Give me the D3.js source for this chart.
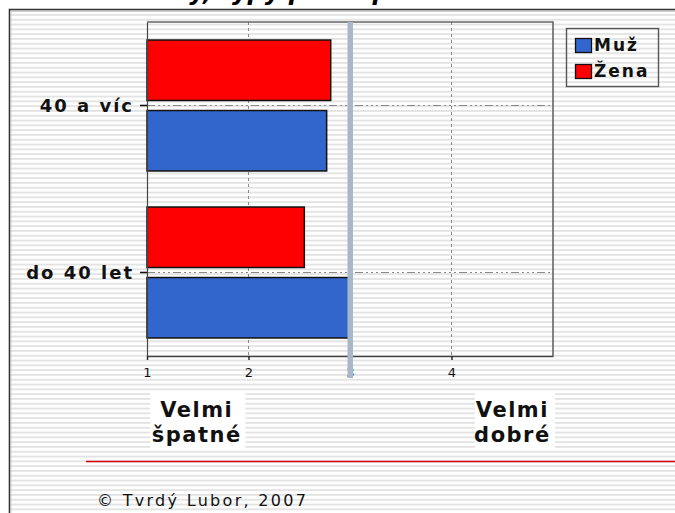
<!DOCTYPE html>
<html><head><meta charset="utf-8">
<script src="https://cdn.jsdelivr.net/npm/d3@7"></script>
<style>html,body{margin:0;padding:0;background:#fff;}svg{display:block;}</style>
</head><body>
<script>
// ---- data ----
const categories = ["40 a víc", "do 40 let"];
const seriesNames = ["Muž", "Žena"];
const muzValues = [2.77, 2.99];
const zenaValues = [2.81, 2.55];
const xTickValues = [1, 2, 3, 4];
const xDomain = [1, 5];
const midValue = 3;
const leftNote = ["Velmi", "špatné"];
const rightNote = ["Velmi", "dobré"];
const titleText = "Názory, typy podle pohlaví a věku";
const footerText = "© Tvrdý Lubor, 2007";
const colors = {"Muž": "#3366cc", "Žena": "#ff0000"};

const W = 675, H = 513;
const font = "'DejaVu Sans', Verdana, sans-serif";
const svg = d3.select("body").append("svg").attr("width", W).attr("height", H);

// stripes background
const defs = svg.append("defs");
const pat = defs.append("pattern").attr("id", "stripes").attr("patternUnits", "userSpaceOnUse")
  .attr("x", 0).attr("y", 14).attr("width", W).attr("height", 4.8);
pat.append("rect").attr("width", W).attr("height", 4.8).attr("fill", "#ffffff");
pat.append("rect").attr("y", 0).attr("width", W).attr("height", 1.8).attr("fill", "#e2e2e2");

svg.append("rect").attr("x", 9).attr("y", 9).attr("width", W).attr("height", H).attr("fill", "url(#stripes)");
// outer frame
svg.append("path").attr("d", `M9.5,${H} V9.5 H${W}`).attr("fill", "none").attr("stroke", "#333").attr("stroke-width", 1.6);
svg.append("path").attr("d", `M11,${H} V11.5 H${W}`).attr("fill", "none").attr("stroke", "#cfcfcf").attr("stroke-width", 1);

// title (cropped at top, as in the reference)
svg.append("text").attr("x", 340).attr("y", 0).attr("text-anchor", "middle")
  .attr("font-family", font).attr("font-size", 24).attr("font-weight", "bold").attr("font-style", "italic")
  .text(titleText);

// scales
const x = d3.scaleLinear().domain(xDomain).range([147, 553]);
const y = d3.scaleBand().domain(categories).range([22, 356]);
const barH = y.bandwidth() * 0.362, gap = y.bandwidth() * 0.06;

const g = svg.append("g");

// vertical dashed gridlines
g.selectAll(".vg").data(xTickValues.filter(v => v !== midValue && v !== xDomain[0])).enter().append("line")
  .attr("x1", d => x(d)).attr("x2", d => x(d)).attr("y1", y.range()[0]).attr("y2", y.range()[1])
  .attr("stroke", "#8a8a8a").attr("stroke-width", 1).attr("stroke-dasharray", "3,3");
// horizontal dash-dot gridlines
g.selectAll(".hg").data(categories).enter().append("line")
  .attr("x1", x(xDomain[0])).attr("x2", x(xDomain[1])).attr("y1", d => y(d) + y.bandwidth()/2).attr("y2", d => y(d) + y.bandwidth()/2)
  .attr("stroke", "#8a8a8a").attr("stroke-width", 1).attr("stroke-dasharray", "8,3,2,3,2,3,2,3");

// plot frame top/right
g.append("path").attr("d", `M${x(xDomain[0])},${y.range()[0]} H${x(xDomain[1])} V${y.range()[1]}`)
  .attr("fill", "none").attr("stroke", "#666").attr("stroke-width", 1.6);

// bars
const rows = categories.map((c, i) => ({c, muz: muzValues[i], zena: zenaValues[i]}));
rows.forEach(r => {
  const cy = y(r.c) + y.bandwidth()/2;
  g.append("rect").attr("x", x(xDomain[0])).attr("y", cy - gap/2 - barH)
    .attr("width", x(r.zena) - x(xDomain[0])).attr("height", barH)
    .attr("fill", colors["Žena"]).attr("stroke", "#111").attr("stroke-width", 1.5);
  g.append("rect").attr("x", x(xDomain[0])).attr("y", cy + gap/2)
    .attr("width", x(r.muz) - x(xDomain[0])).attr("height", barH)
    .attr("fill", colors["Muž"]).attr("stroke", "#111").attr("stroke-width", 1.5);
});

// x axis
const xa = svg.append("g").attr("transform", `translate(0,${y.range()[1]})`)
  .call(d3.axisBottom(x).tickValues(xTickValues).tickFormat(d3.format("d")).tickSize(4).tickSizeOuter(0));
xa.select(".domain").attr("stroke", "#444").attr("stroke-width", 1.4);
xa.selectAll(".tick line").attr("stroke", "#222").attr("stroke-width", 1.4);
xa.selectAll(".tick text").attr("font-family", font).attr("font-size", 13).attr("fill", "#111").attr("dy", "1.1em");

// y axis
const ya = svg.append("g").attr("transform", `translate(${x(xDomain[0])},0)`)
  .call(d3.axisLeft(y).tickSize(7).tickSizeOuter(0).tickPadding(6));
ya.select(".domain").attr("stroke", "#444").attr("stroke-width", 1.2);
ya.selectAll(".tick line").attr("stroke", "#111").attr("stroke-width", 1.6);
ya.selectAll(".tick text").attr("font-family", font).attr("font-size", 18).attr("font-weight", "bold")
  .attr("letter-spacing", 2).attr("fill", "#111").attr("dy", "0.35em");

// mid grey line at 3
svg.append("rect").attr("x", x(midValue) - 2.5).attr("y", y.range()[0]).attr("width", 5.5).attr("height", 378 - y.range()[0])
  .attr("fill", "#a9b8c8");

// notes under axis
function note(lines, cx, x0, x1) {
  svg.append("rect").attr("x", x0).attr("y", 392).attr("width", x1 - x0).attr("height", 56).attr("fill", "#fff");
  const t = svg.append("text").attr("font-family", font).attr("font-size", 21).attr("font-weight", "bold")
    .attr("letter-spacing", 1.5).attr("fill", "#111").attr("text-anchor", "middle");
  lines.forEach((l, i) => t.append("tspan").attr("x", cx).attr("y", 417 + i*25).text(l));
}
note(leftNote, x(1.5) - 1, x(1.03), x(1.97));
note(rightNote, x(4.6), x(4.23), x(5.02));

// red separator line
svg.append("line").attr("x1", 86).attr("x2", W).attr("y1", 461.5).attr("y2", 461.5).attr("stroke", "#d40000").attr("stroke-width", 1.5);

// footer
svg.append("text").attr("x", 97).attr("y", 506).attr("font-family", font).attr("font-size", 16)
  .attr("letter-spacing", 2.3).attr("fill", "#111").text(footerText);

// legend
const lg = svg.append("g");
lg.append("rect").attr("x", 566.5).attr("y", 28.5).attr("width", 92).attr("height", 58).attr("fill", "none").attr("stroke", "#555").attr("stroke-width", 1.4);
seriesNames.forEach((s, i) => {
  const yy = 38 + i*26;
  lg.append("rect").attr("x", 575.5).attr("y", yy + 0.5).attr("width", 16).attr("height", 14)
    .attr("fill", colors[s]).attr("stroke", "#111").attr("stroke-width", 1.3);
  lg.append("text").attr("x", 594).attr("y", yy + 13).attr("font-family", font).attr("font-size", 17)
    .attr("font-weight", "bold").attr("letter-spacing", 2).attr("fill", "#111").text(s);
});
</script>
</body></html>
